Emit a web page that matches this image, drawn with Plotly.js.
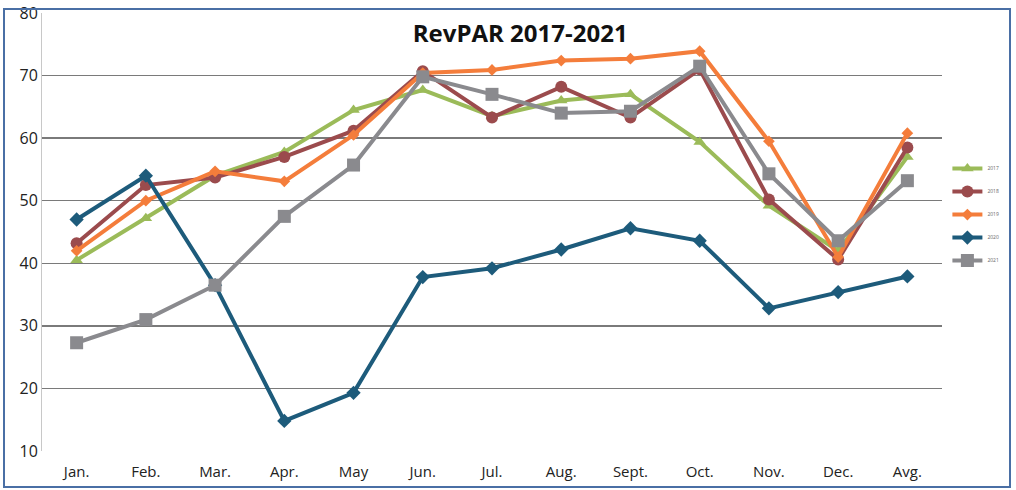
<!DOCTYPE html>
<html>
<head>
<meta charset="utf-8">
<script src="https://cdn.plot.ly/plotly-3.0.1.min.js"></script>
<style>html,body{margin:0;padding:0;background:#fff;}#chart{width:1016px;height:490px;}</style>
</head>
<body>
<div id="chart"></div>
<script>
const months = ["Jan.", "Feb.", "Mar.", "Apr.", "May", "Jun.", "Jul.", "Aug.", "Sept.", "Oct.", "Nov.", "Dec.", "Avg."];
const seriesNames = ["2017", "2018", "2019", "2020", "2021"];
const rev2017 = [40.5, 47.2, 54.0, 57.8, 64.5, 67.7, 63.5, 66.0, 67.0, 59.4, 49.2, 42.0, 57.0];
const rev2018 = [43.2, 52.5, 53.7, 57.0, 61.2, 70.7, 63.3, 68.2, 63.3, 71.0, 50.2, 40.6, 58.5];
const rev2019 = [42.0, 50.0, 54.7, 53.1, 60.5, 70.4, 70.9, 72.4, 72.7, 73.9, 59.5, 41.0, 60.8];
const rev2020 = [47.0, 54.0, 36.5, 14.8, 19.3, 37.8, 39.2, 42.2, 45.6, 43.6, 32.8, 35.4, 37.9];
const rev2021 = [27.3, 31.0, 36.5, 47.5, 55.7, 69.8, 67.0, 64.0, 64.3, 71.5, 54.3, 43.6, 53.2];
const yTicks = [10, 20, 30, 40, 50, 60, 70, 80];

const styles = [
  {color: "#9bbb59", symbol: "triangle-up", size: 11},
  {color: "#9b4b4d", symbol: "circle", size: 12},
  {color: "#f47d3b", symbol: "diamond", size: 9},
  {color: "#1d5b7b", symbol: "diamond", size: 11},
  {color: "#8a8a8e", symbol: "square", size: 13}
];
const values = [rev2017, rev2018, rev2019, rev2020, rev2021];

const traces = values.map((v, i) => ({
  type: "scatter",
  mode: "lines+markers",
  x: months,
  y: v,
  name: seriesNames[i],
  legendgroup: "g" + i,
  line: {color: styles[i].color, width: 4},
  marker: {color: styles[i].color, symbol: styles[i].symbol, size: styles[i].size}
}));

const layout = {
  width: 1016, height: 490,
  margin: {l: 42, r: 74, t: 13, b: 39},
  paper_bgcolor: "#ffffff",
  plot_bgcolor: "#ffffff",
  font: {family: "Open Sans, Liberation Sans, sans-serif", color: "#222"},
  title: {
    text: "<b>RevPAR 2017-2021</b>",
    x: 0.512, xref: "container", xanchor: "center",
    y: 1 - 34 / 490, yref: "container", yanchor: "middle",
    font: {size: 24, color: "#111", family: "Open Sans, sans-serif"}
  },
  xaxis: {
    type: "category",
    range: [-0.5, 12.5],
    tickfont: {size: 15, color: "#222"},
    ticklabelstandoff: 10,
    showgrid: false,
    showline: false,
    ticks: "",
    zeroline: false
  },
  yaxis: {
    range: [10, 80],
    tickvals: yTicks,
    tickfont: {size: 16, color: "#222"},
    showgrid: true,
    gridcolor: "#7a7a7a",
    gridwidth: 1.3,
    zeroline: false,
    showline: true,
    linecolor: "#c8c8c8",
    linewidth: 1,
    ticks: ""
  },
  showlegend: true,
  legend: {
    x: 1.006, xanchor: "left",
    y: 0.678, yanchor: "top",
    font: {size: 5, color: "#666"},
    traceorder: "grouped",
    tracegroupgap: 4,
    itemwidth: 30,
    bgcolor: "rgba(0,0,0,0)"
  },
  shapes: [
    {type: "rect", xref: "paper", yref: "paper",
     x0: -38 / 900, x1: (1010 - 42) / 900, y0: -(487 - 451) / 438, y1: 1 + 4 / 438,
     line: {color: "#4a6fa5", width: 2}, fillcolor: "rgba(0,0,0,0)"}
  ]
};

Plotly.newPlot("chart", traces, layout, {displayModeBar: false, staticPlot: true});
</script>
</body>
</html>
